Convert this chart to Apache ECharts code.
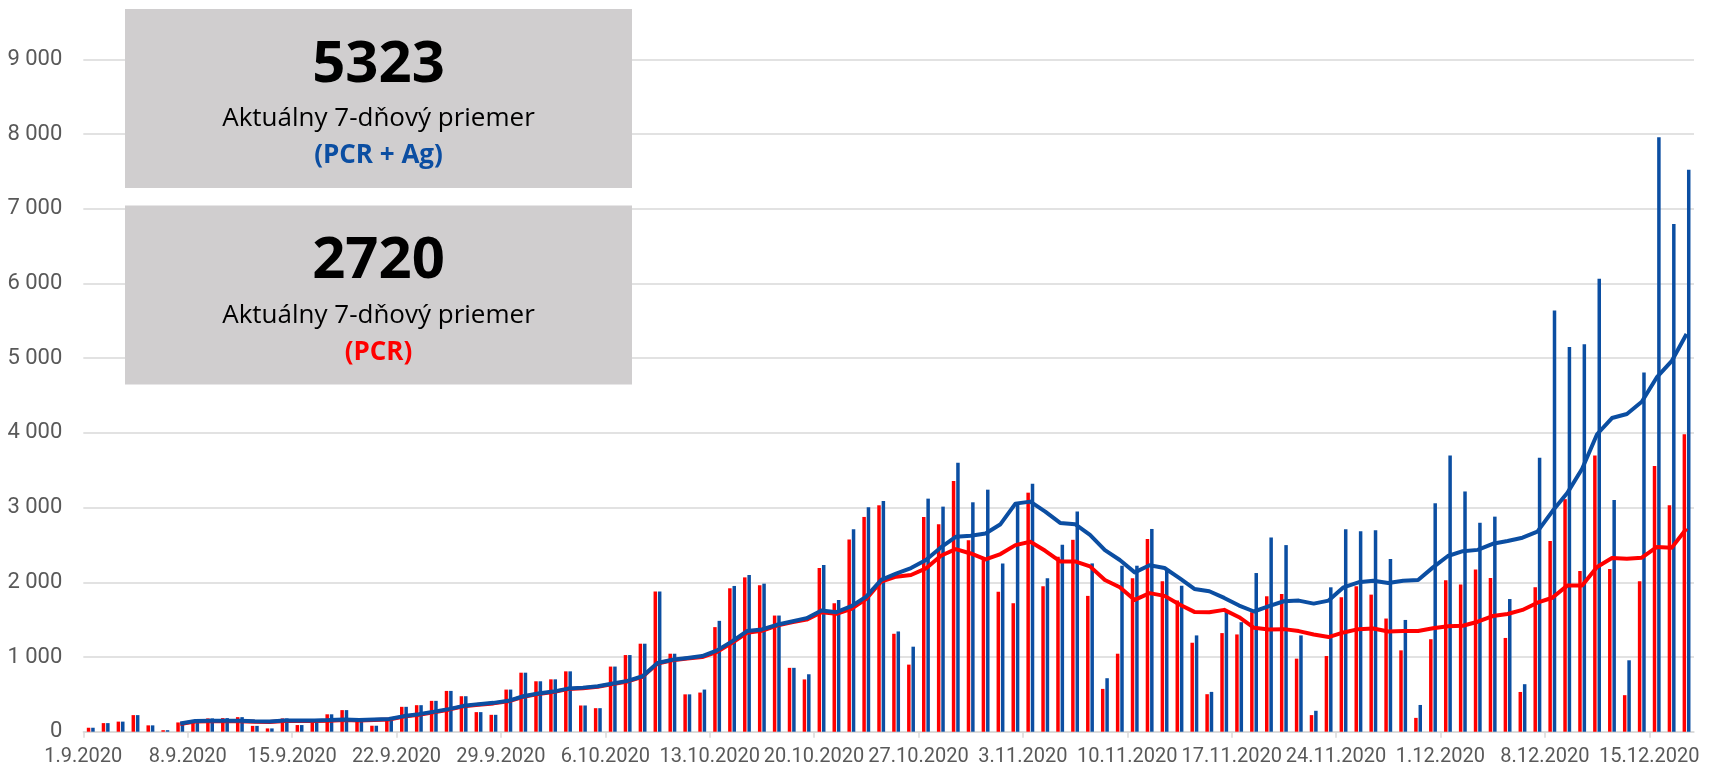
<!DOCTYPE html>
<html>
<head>
<meta charset="utf-8">
<script src="https://cdn.jsdelivr.net/npm/echarts@6/dist/echarts.min.js"></script>
<style>
  html, body { margin: 0; padding: 0; background: #fff; }
  #chart { width: 1709px; height: 772px; }
</style>
</head>
<body>
<div id="chart"></div>
<script>
// daily positives, 1.9.2020 - 17.12.2020
const START = new Date(2020, 8, 1);
const DAYS = [];
for (let i = 0; i < 108; i++) {
  const d = new Date(START.getTime() + i * 86400000);
  DAYS.push(d.getDate() + '.' + (d.getMonth() + 1) + '.' + d.getFullYear());
}

const TICK_LABELS = ['1.9.2020', '8.9.2020', '15.9.2020', '22.9.2020', '29.9.2020', '6.10.2020',
  '13.10.2020', '20.10.2020', '27.10.2020', '3.11.2020', '10.11.2020', '17.11.2020',
  '24.11.2020', '1.12.2020', '8.12.2020', '15.12.2020'];

const PCR = [53, 115, 135, 222, 85, 20, 124, 155, 178, 182,
  195, 78, 44, 178, 89, 120, 233, 289, 150, 80,
  165, 333, 355, 413, 546, 475, 262, 226, 564, 790,
  675, 701, 808, 351, 315, 872, 1026, 1178, 1876, 1044,
  500, 524, 1400, 1920, 2066, 1960, 1555, 855, 700, 2190,
  1720, 2573, 2875, 3031, 1311, 898, 2875, 2778, 3355, 2564,
  2311, 1875, 1720, 3200, 1947, 2342, 2569, 1818, 573, 1044,
  2053, 2578, 2013, 1755, 1191, 502, 1320, 1302, 1600, 1813,
  1844, 978, 222, 1013, 1800, 1947, 1835, 1515, 1089, 185,
  1238, 2026, 1972, 2173, 2059, 1255, 532, 1934, 2553, 3113,
  2151, 3699, 2178, 489, 2015, 3558, 3031, 3982];

const PCR_AG = [53, 115, 135, 222, 85, 20, 124, 155, 178, 182,
  195, 78, 44, 178, 89, 120, 233, 289, 150, 80,
  165, 333, 355, 413, 546, 475, 262, 226, 564, 790,
  675, 701, 808, 351, 315, 872, 1026, 1178, 1876, 1044,
  500, 564, 1484, 1951, 2098, 1982, 1555, 855, 769, 2231,
  1764, 2711, 3004, 3090, 1342, 1138, 3120, 3013, 3600, 3071,
  3240, 2253, 3066, 3320, 2053, 2502, 2947, 2253, 716, 2222,
  2222, 2714, 2155, 1955, 1289, 533, 1600, 1466, 2124, 2600,
  2498, 1289, 280, 1933, 2711, 2684, 2697, 2311, 1496, 358,
  3058, 3699, 3216, 2797, 2879, 1776, 636, 3667, 5638, 5150,
  5188, 6062, 3102, 956, 4807, 7958, 6796, 7523];

// 7-day averages as drawn
const AVG_PCR = [null, null, null, null, null, null, 104, 135, 140, 140,
  140, 133, 131, 143, 144, 144, 148, 157, 151, 157,
  162, 202, 228, 259, 295, 339, 362, 379, 406, 468,
  504, 530, 570, 583, 601, 637, 673, 735, 913, 957,
  980, 1000, 1070, 1190, 1325, 1350, 1420, 1465, 1500, 1600,
  1578, 1644, 1778, 2010, 2075, 2098, 2186, 2355, 2444, 2386,
  2306, 2378, 2498, 2542, 2422, 2280, 2280, 2213, 2031, 1933,
  1764, 1855, 1818, 1702, 1604, 1600, 1631, 1533, 1391, 1369,
  1373, 1347, 1302, 1267, 1329, 1373, 1382, 1342, 1347, 1347,
  1385, 1412, 1418, 1472, 1548, 1575, 1630, 1727, 1793, 1956,
  1956, 2205, 2325, 2314, 2330, 2472, 2461, 2720];

const AVG_PCR_AG = [null, null, null, null, null, null, 111, 142, 147, 147,
  147, 140, 138, 150, 151, 151, 155, 164, 158, 164,
  169, 209, 235, 266, 302, 346, 369, 386, 413, 475,
  511, 537, 577, 590, 608, 644, 680, 742, 920, 964,
  987, 1013, 1089, 1209, 1347, 1369, 1431, 1475, 1520, 1622,
  1600, 1680, 1809, 2033, 2115, 2191, 2298, 2466, 2609, 2622,
  2653, 2778, 3053, 3080, 2946, 2795, 2778, 2635, 2431, 2298,
  2133, 2228, 2191, 2057, 1911, 1880, 1791, 1689, 1609, 1680,
  1746, 1755, 1715, 1755, 1933, 2000, 2022, 1991, 2022, 2031,
  2200, 2352, 2417, 2434, 2515, 2553, 2597, 2678, 2950, 3194,
  3520, 3982, 4199, 4253, 4416, 4742, 4960, 5323];

const RED = '#ff0000';
const BLUE = '#0b4ea2';
const GRID_COLOR = '#d9d9d9';
const LABEL_COLOR = '#595959';
const LABEL_FONT = 'Roboto, sans-serif';
const BOX_FONT = '"Open Sans", "Noto Sans", sans-serif';

const tickValues = TICK_LABELS.map((_, i) => i * 7);

const fmtThousands = (v) => {
  if (v === 0) return '0';
  return Math.floor(v / 1000) + ' ' + String(v % 1000).padStart(3, '0');
};

function infoBox(top, value, sub, subColor) {
  const cx = 378.5;
  return [
    { type: 'rect', shape: { x: 125, y: top, width: 507, height: 179 },
      style: { fill: '#d0cecf' }, z: 100 },
    { type: 'text', x: cx, y: top + 56, z: 101,
      style: { text: value, fill: '#000', font: 'bold 58px ' + BOX_FONT,
        align: 'center', verticalAlign: 'middle', textAlign: 'center', textVerticalAlign: 'middle' } },
    { type: 'text', x: cx, y: top + 110, z: 101,
      style: { text: 'Aktuálny 7-dňový priemer', fill: '#000', font: '26px ' + BOX_FONT,
        align: 'center', verticalAlign: 'middle', textAlign: 'center', textVerticalAlign: 'middle' } },
    { type: 'text', x: cx, y: top + 147, z: 101,
      style: { text: sub, fill: subColor, font: 'bold 26px ' + BOX_FONT,
        align: 'center', verticalAlign: 'middle', textAlign: 'center', textVerticalAlign: 'middle' } },
  ];
}

const chart = echarts.init(document.getElementById('chart'));

chart.setOption({
  animation: false,
  backgroundColor: '#ffffff',
  grid: { left: 83.3, right: 15, top: 59.4, bottom: 40.3, containLabel: false },
  xAxis: [
    {
      type: 'category',
      data: DAYS,
      boundaryGap: true,
      axisLine: { lineStyle: { color: GRID_COLOR, width: 1.5 } },
      axisTick: { show: false },
      axisLabel: { show: false },
      splitLine: { show: false },
    },
    {
      type: 'value',
      min: 0,
      max: DAYS.length,
      position: 'bottom',
      axisLine: { show: false },
      splitLine: { show: false },
      axisTick: {
        show: true, length: 6, customValues: tickValues,
        lineStyle: { color: GRID_COLOR, width: 1.5 },
      },
      axisLabel: {
        customValues: tickValues,
        formatter: (v) => TICK_LABELS[Math.round(v / 7)] || '',
        color: LABEL_COLOR,
        fontFamily: LABEL_FONT,
        fontSize: 20,
        margin: 15,
        hideOverlap: false,
      },
    },
  ],
  yAxis: {
    type: 'value',
    min: 0,
    max: 9000,
    interval: 1000,
    axisLine: { show: false },
    axisTick: { show: false },
    splitLine: { lineStyle: { color: GRID_COLOR, width: 1.5 } },
    axisLabel: {
      formatter: fmtThousands,
      color: LABEL_COLOR,
      fontFamily: LABEL_FONT,
      fontSize: 22,
      margin: 21,
    },
  },
  series: [
    {
      name: 'PCR',
      type: 'bar',
      data: PCR,
      barWidth: 3.5,
      barGap: '25%',
      itemStyle: { color: RED },
    },
    {
      name: 'PCR + Ag',
      type: 'bar',
      data: PCR_AG,
      barWidth: 3.5,
      itemStyle: { color: BLUE },
    },
    {
      name: 'PCR 7d',
      type: 'line',
      data: AVG_PCR,
      symbol: 'none',
      smooth: false,
      lineStyle: { color: RED, width: 4, join: 'round' },
      z: 5,
    },
    {
      name: 'PCR + Ag 7d',
      type: 'line',
      data: AVG_PCR_AG,
      symbol: 'none',
      smooth: false,
      lineStyle: { color: BLUE, width: 4, join: 'round' },
      z: 6,
    },
  ],
  graphic: [
    ...infoBox(9, String(AVG_PCR_AG[AVG_PCR_AG.length - 1]), '(PCR + Ag)', BLUE),
    ...infoBox(205.5, String(AVG_PCR[AVG_PCR.length - 1]), '(PCR)', RED),
  ],
});
</script>
</body>
</html>
